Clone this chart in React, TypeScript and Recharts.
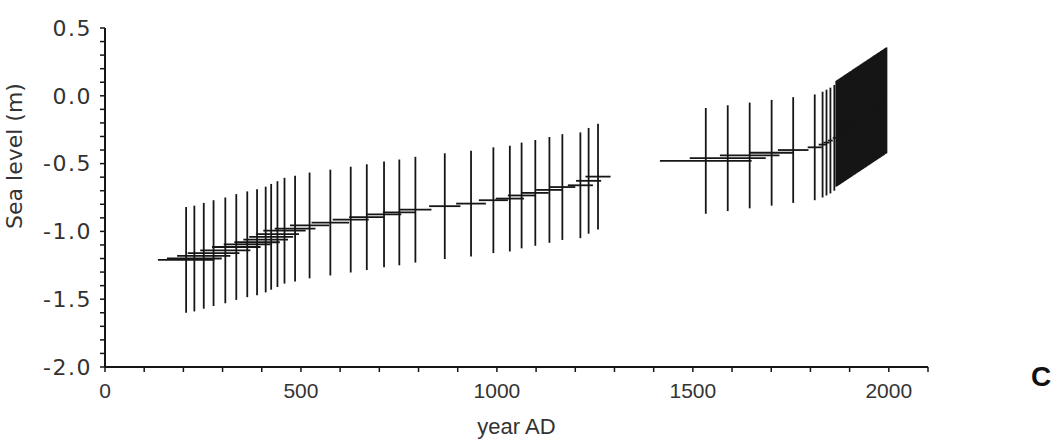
import React from "react";
import {
  ScatterChart,
  Scatter,
  XAxis,
  YAxis,
  ErrorBar,
  Label,
} from "recharts";

// early reconstruction (cross-hairs on the left)
const earlyYears = [
  207, 228, 252, 277, 307, 335, 363, 388, 410, 424, 440, 458, 485, 522, 575,
  627, 668, 712, 751, 792, 867, 934, 991, 1033, 1063, 1098, 1134, 1167, 1213,
  1234, 1258,
];
const earlyLevels = [
  -1.21, -1.2, -1.18, -1.16, -1.14, -1.115, -1.095, -1.08, -1.06, -1.04, -1.02,
  -0.995, -0.98, -0.956, -0.935, -0.913, -0.895, -0.875, -0.86, -0.84, -0.814,
  -0.795, -0.77, -0.758, -0.735, -0.716, -0.694, -0.673, -0.66, -0.627, -0.596,
];
const earlyAgeErr = [
  72, 70, 68, 66, 64, 62, 60, 58, 57, 56, 55, 54, 52, 50, 48, 46, 45, 44, 42,
  41, 40, 38, 37, 36, 35, 34, 34, 33, 32, 32, 32,
];

// later reconstruction points
const midYears = [1533, 1589, 1645, 1701, 1756, 1811, 1831, 1841, 1851, 1861];
const midLevels = [-0.48, -0.46, -0.44, -0.42, -0.4, -0.38, -0.36, -0.345, -0.33, -0.31];
const midAgeErr = [117, 97, 76, 56, 39, 18, 10, 8, 6, 4];

// tide gauge years (dense block)
const gaugeYears = [
  1866, 1868, 1870, 1872, 1874, 1876, 1878, 1880, 1882, 1884, 1886, 1888, 1890,
  1892, 1894, 1896, 1898, 1900, 1902, 1904, 1906, 1908, 1910, 1912, 1914, 1916,
  1918, 1920, 1922, 1924, 1926, 1928, 1930, 1932, 1934, 1936, 1938, 1940, 1942,
  1944, 1946, 1948, 1950, 1952, 1954, 1956, 1958, 1960, 1962, 1964, 1966, 1968,
  1970, 1972, 1974, 1976, 1978, 1980, 1982, 1984, 1986, 1988, 1990, 1992, 1994,
];
const gaugeLevels = [
  -0.28, -0.275, -0.272, -0.268, -0.265, -0.26, -0.257, -0.252, -0.25, -0.245,
  -0.24, -0.238, -0.233, -0.23, -0.225, -0.222, -0.218, -0.215, -0.21, -0.207,
  -0.203, -0.198, -0.195, -0.19, -0.188, -0.183, -0.18, -0.175, -0.172, -0.168,
  -0.165, -0.16, -0.157, -0.152, -0.15, -0.145, -0.14, -0.138, -0.133, -0.13,
  -0.125, -0.122, -0.118, -0.115, -0.11, -0.107, -0.103, -0.098, -0.095, -0.09,
  -0.088, -0.083, -0.08, -0.075, -0.072, -0.068, -0.065, -0.06, -0.057, -0.052,
  -0.05, -0.045, -0.04, -0.038, -0.033,
];

const levelErr = 0.39;

const xTicks = [
  0, 100, 200, 300, 400, 500, 600, 700, 800, 900, 1000, 1100, 1200, 1300, 1400,
  1500, 1600, 1700, 1800, 1900, 2000, 2100,
];
const yTicks = [
  -2.0, -1.9, -1.8, -1.7, -1.6, -1.5, -1.4, -1.3, -1.2, -1.1, -1.0, -0.9, -0.8,
  -0.7, -0.6, -0.5, -0.4, -0.3, -0.2, -0.1, 0.0, 0.1, 0.2, 0.3, 0.4, 0.5,
];

const toRows = (years: number[], levels: number[], ageErr?: number[]) =>
  years.map((x, i) => ({
    x,
    y: levels[i],
    ex: ageErr ? ageErr[i] : 0.5,
    ey: levelErr,
  }));

const early = toRows(earlyYears, earlyLevels, earlyAgeErr);
const mid = toRows(midYears, midLevels, midAgeErr);
const gauge = toRows(gaugeYears, gaugeLevels);

const ink = "#161616";
const noDot = () => <g />;

export default function App() {
  const series = [early, mid, gauge];
  return (
    <div style={{ position: "absolute", left: 0, top: 0, width: 1060, height: 442, background: "#fff" }}>
      <ScatterChart
        width={1060}
        height={442}
        margin={{ top: 28, right: 132, bottom: 35, left: 0 }}
      >
        <XAxis
          type="number"
          dataKey="x"
          domain={[0, 2100]}
          allowDataOverflow
          ticks={xTicks}
          interval={0}
          height={40}
          tickSize={5}
          tickMargin={11}
          tickFormatter={(v: number) => (v % 500 === 0 ? String(v) : "")}
          axisLine={{ stroke: ink, strokeWidth: 2 }}
          tickLine={{ stroke: ink, strokeWidth: 1.5 }}
          tick={{ fill: "#333", fontSize: 21, fontFamily: "Liberation Sans" }}
        >
          <Label
            value="year AD"
            position="bottom"
            offset={11}
            style={{ fill: "#333", fontSize: 22, fontFamily: "Liberation Sans" }}
          />
        </XAxis>
        <YAxis
          type="number"
          dataKey="y"
          domain={[-2, 0.5]}
          allowDataOverflow
          ticks={yTicks}
          interval={0}
          width={105}
          tickSize={5}
          tickMargin={8}
          tickFormatter={(v: number) =>
            Math.abs(v * 2 - Math.round(v * 2)) < 1e-6 ? v.toFixed(1) : ""
          }
          axisLine={{ stroke: ink, strokeWidth: 2 }}
          tickLine={{ stroke: ink, strokeWidth: 1.5 }}
          tick={{ fill: "#333", fontSize: 22, fontFamily: "DejaVu Sans", letterSpacing: 1.5 }}
        >
          <Label
            content={() => (
              <text
                x={22}
                y={156}
                transform="rotate(-90 22 156)"
                textAnchor="middle"
                fill="#333"
                fontSize={22}
                fontFamily="DejaVu Sans"
              >
                Sea level (m)
              </text>
            )}
          />
        </YAxis>
        {series.map((d, i) => (
          <Scatter key={i} data={d} shape={noDot} isAnimationActive={false}>
            <ErrorBar dataKey="ey" direction="y" width={0} stroke={ink} strokeWidth={1.8} isAnimationActive={false} />
            <ErrorBar dataKey="ex" direction="x" width={0} stroke={ink} strokeWidth={1.8} isAnimationActive={false} />
          </Scatter>
        ))}
      </ScatterChart>
      <div
        style={{
          position: "absolute",
          left: 1031,
          top: 362,
          fontFamily: "Liberation Sans",
          fontWeight: "bold",
          fontSize: 28,
          color: "#111",
          lineHeight: "30px",
        }}
      >
        C
      </div>
    </div>
  );
}
